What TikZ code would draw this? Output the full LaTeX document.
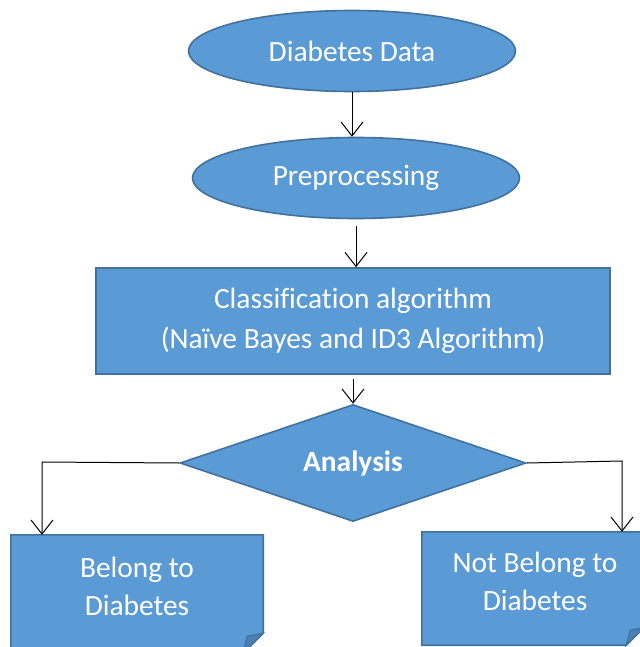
\documentclass[tikz,border=0pt]{standalone}
\usepackage{fontspec}
\setmainfont{Carlito}[Ligatures=NoCommon]
\usetikzlibrary{shapes.geometric,arrows.meta,calc}
\definecolor{fillblue}{HTML}{5B9BD5}
\definecolor{edgeblue}{HTML}{41719C}
\definecolor{folddark}{HTML}{4A80B6}
\begin{document}
\begin{tikzpicture}[x=1pt,y=-1pt,
 shapebase/.style={fill=fillblue,draw=edgeblue,line width=1.6pt,text=white,font=\fontsize{29.4}{40}\selectfont,align=center,inner sep=0pt},
 oval/.style={shapebase,ellipse,minimum width=327pt,minimum height=81pt},
 procbox/.style={shapebase,rectangle,minimum width=514pt,minimum height=106pt},
 decision/.style={shapebase,diamond,aspect=3,minimum width=346pt,minimum height=117pt,font=\bfseries\fontsize{29.4}{40}\selectfont},
 holder/.style={rectangle,draw=none,inner sep=0pt},
 foldshape/.style={fill=fillblue,draw=edgeblue,line width=1.6pt,line join=miter},
 foldtri/.style={fill=folddark,draw=edgeblue,line width=1.2pt},
 txt/.style={text=white,font=\fontsize{29.4}{38}\selectfont,align=center,inner sep=0pt},
 arr/.style={draw=black,line width=1pt,-{Straight Barb[length=14pt,width=22pt,line width=1pt]}}
]
\useasboundingbox (0,0) rectangle (639,647);

\node[oval] (data) at (352,51) {Diabetes Data};
\node[oval] (prep) at (356,178) {Preprocessing};
\node[procbox] (cls) at (353,321) {Classification algorithm\\(Naïve Bayes and ID3 Algorithm)};
\node[decision] (ana) at (353,463) {Analysis};

% left folded box
\node[holder,minimum width=252pt,minimum height=118pt] (yes) at (137,594) {};
\draw[foldshape] (yes.north west) -- (yes.north east) -- ($(yes.south east)+(0,-20)$) -- ($(yes.south east)+(-20,0)$) -- (yes.south west) -- cycle;
\draw[foldtri] ($(yes.south east)+(0,-20)$) -- ($(yes.south east)+(-20,0)$) -- ($(yes.south east)+(-16,-17)$) -- cycle;
\node[txt] (yest) at (137,586) {Belong to\\Diabetes};

% right folded box
\node[holder,minimum width=222pt,minimum height=113pt] (no) at (533,588.5) {};
\draw[foldshape] (no.north west) -- (no.north east) -- ($(no.south east)+(0,-18)$) -- ($(no.south east)+(-18,0)$) -- (no.south west) -- cycle;
\draw[foldtri] ($(no.south east)+(0,-18)$) -- ($(no.south east)+(-18,0)$) -- ($(no.south east)+(-14,-15)$) -- cycle;
\node[txt] (not) at (535,581) {Not Belong to\\Diabetes};

% connectors
\draw[arr] (data.south) -- (data.south |- prep.north);
\draw[arr,shorten <=7pt] (prep.south) -- (prep.south |- cls.north);
\draw[arr,shorten <=4pt] (cls.south) -- (cls.south |- ana.north);
\coordinate (lk) at (42,462);
\coordinate (rk) at (622,461);
\draw[arr] (ana.west) -- (lk) -- (lk |- yes.north);
\draw[arr] (ana.east) -- (rk) -- (rk |- no.north);
\end{tikzpicture}
\end{document}
